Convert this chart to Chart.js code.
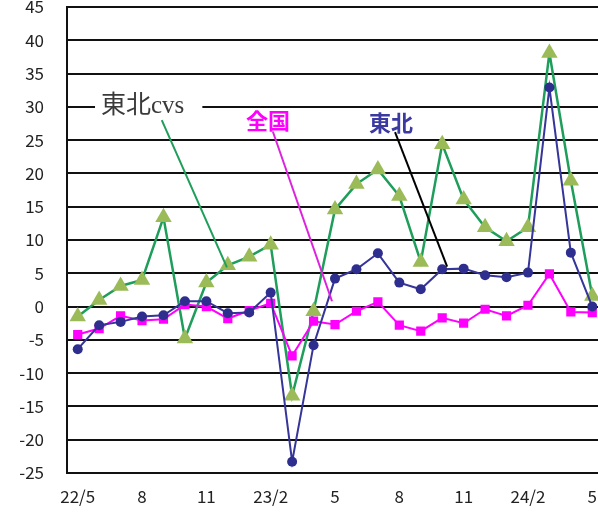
<!DOCTYPE html>
<html>
<head>
<meta charset="utf-8">
<script src="https://cdn.jsdelivr.net/npm/chart.js@4.4.1/dist/chart.umd.min.js"></script>
<style>
  html, body { margin: 0; padding: 0; background: #fff; overflow: hidden; }
  #wrap { position: relative; width: 603px; height: 515px; }
</style>
</head>
<body>
<div id="wrap"><canvas id="c"></canvas></div>
<script>
// Months from 22/5 to 24/5
const categories = ['22/5','6','7','8','9','10','11','12','23/1','23/2','3','4','5','6','7','8','9','10','11','12','24/1','24/2','3','4','5'];
const tickLabels = ['22/5','','','8','','','11','','','23/2','','','5','','','8','','','11','','','24/2','','','5'];

const tohokuCvs = [-1.5, 1.0, 3.1, 4.0, 13.4, -4.8, 3.6, 6.2, 7.5, 9.3, -13.4, -0.7, 14.6, 18.4, 20.6, 16.6, 6.7, 24.4, 16.1, 11.9, 9.8, 11.9, 38.1, 18.9, 1.6];
const tohoku    = [-6.4, -2.8, -2.3, -1.5, -1.3, 0.8, 0.8, -1.0, -0.9, 2.1, -23.3, -5.8, 4.2, 5.6, 8.0, 3.6, 2.6, 5.6, 5.7, 4.7, 4.4, 5.1, 32.9, 8.1, 0.0];
const zenkoku   = [-4.2, -3.3, -1.4, -2.1, -1.9, 0.3, 0.0, -1.8, -0.6, 0.5, -7.4, -2.2, -2.7, -0.7, 0.7, -2.8, -3.7, -1.7, -2.5, -0.4, -1.4, 0.2, 4.9, -0.8, -0.9];

const seriesNames = ['東北cvs', '全国', '東北'];

// Callout labels (in data coordinates: category index, value)
const callouts = [
  { text: seriesNames[0], at: [3.03, 30.0], from: [3.92, 28.0], to: [6.96, 5.9],
    color: '#3a3a3a', lineColor: '#1e9e5a', font: "25px 'Liberation Serif','Noto Sans CJK JP'", box: true },
  { text: seriesNames[1], at: [8.87, 28.0], from: [9.10, 26.3], to: [11.86, 0.8],
    color: '#ff00ff', lineColor: '#dd22dd', font: "bold 22px 'Noto Sans CJK JP'", box: false },
  { text: seriesNames[2], at: [14.61, 27.7], from: [14.80, 26.2], to: [17.23, 6.0],
    color: '#3a3aa0', lineColor: '#000000', font: "bold 22px 'Noto Sans CJK JP'", box: false }
];

const calloutPlugin = {
  id: 'callouts',
  afterDatasetsDraw(chart) {
    const ctx = chart.ctx;
    const xs = chart.scales.x, ys = chart.scales.y;
    callouts.forEach(c => {
      ctx.save();
      ctx.font = c.font;
      ctx.textAlign = 'center';
      ctx.textBaseline = 'middle';
      const tx = xs.getPixelForValue(c.at[0]);
      const ty = ys.getPixelForValue(c.at[1]);
      if (c.box) {
        const w = ctx.measureText(c.text).width;
        ctx.fillStyle = '#fff';
        ctx.fillRect(tx - w / 2 - 6, ty - 13, w + 24, 26);
      }
      ctx.fillStyle = c.color;
      ctx.fillText(c.text, tx, ty);
      ctx.strokeStyle = c.lineColor;
      ctx.lineWidth = 2;
      ctx.beginPath();
      ctx.moveTo(xs.getPixelForValue(c.from[0]), ys.getPixelForValue(c.from[1]));
      ctx.lineTo(xs.getPixelForValue(c.to[0]), ys.getPixelForValue(c.to[1]));
      ctx.stroke();
      ctx.restore();
    });
  }
};

new Chart(document.getElementById('c'), {
  type: 'line',
  data: {
    labels: categories,
    datasets: [
      { label: seriesNames[2], data: tohoku, order: 1,
        borderColor: '#35359a', backgroundColor: '#2e2e8e', borderWidth: 2,
        pointStyle: 'circle', pointRadius: 5, pointBorderWidth: 0, pointBackgroundColor: '#2e2e8e', tension: 0 },
      { label: seriesNames[1], data: zenkoku, order: 2,
        borderColor: '#ff00ff', backgroundColor: '#ff00ff', borderWidth: 2,
        pointStyle: 'rect', pointRadius: 6.5, pointBorderWidth: 0, pointBackgroundColor: '#ff00ff', tension: 0 },
      { label: seriesNames[0], data: tohokuCvs, order: 3,
        borderColor: '#1e9e5a', backgroundColor: '#9bbb59', borderWidth: 2.5,
        pointStyle: 'triangle', pointRadius: 9.5, pointBorderWidth: 0, pointBackgroundColor: '#9bbb59', tension: 0 }
    ]
  },
  options: {
    responsive: true,
    maintainAspectRatio: false,
    animation: false,
    events: [],
    layout: { autoPadding: false, padding: { top: 7, left: 0, right: 0, bottom: 0 } },
    plugins: { legend: { display: false }, tooltip: { enabled: false } },
    scales: {
      x: {
        offset: true,
        grid: { display: false, drawTicks: false },
        border: { display: false },
        ticks: {
          autoSkip: false, maxRotation: 0, minRotation: 0, padding: 13,
          color: '#222', font: { family: "'Noto Sans CJK JP'", size: 17 },
          callback: (v, i) => tickLabels[i]
        },
        afterFit: s => { s.height = 42; s.paddingLeft = 0; s.paddingRight = 0; }
      },
      y: {
        min: -25, max: 45,
        ticks: { stepSize: 5, padding: 23, color: '#222', font: { family: "'Noto Sans CJK JP'", size: 17 } },
        grid: { color: '#111', lineWidth: 2, drawTicks: false },
        border: { display: true, color: '#111', width: 2 },
        afterFit: s => { s.width = 67; s.paddingTop = 0; s.paddingBottom = 0; }
      }
    }
  },
  plugins: [calloutPlugin]
});
</script>
</body>
</html>
